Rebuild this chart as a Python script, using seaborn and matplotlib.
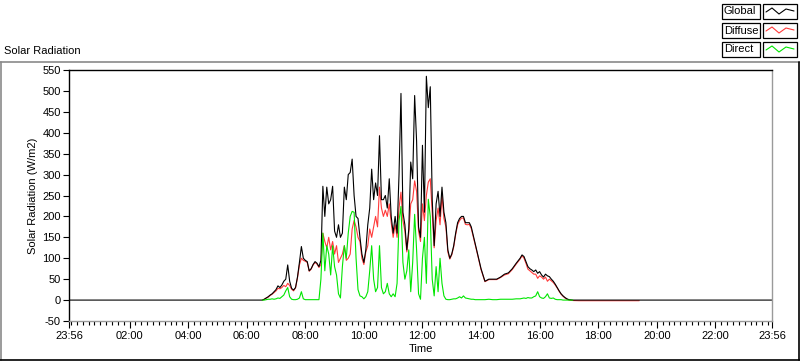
import matplotlib
matplotlib.use("Agg")
import numpy as np
import pandas as pd
import seaborn as sns
import matplotlib.pyplot as plt
from matplotlib.lines import Line2D
from matplotlib.patches import Rectangle
from matplotlib.ticker import FixedLocator, FixedFormatter

# ---------------- data ----------------
TIMES = [
    "06:32", "06:36", "06:40", "06:44", "06:48", "06:52", "06:56",
    "07:00", "07:04", "07:08", "07:12", "07:16", "07:20", "07:24", "07:28", "07:32", "07:36", "07:40", "07:44", "07:48", "07:52", "07:56",
    "08:00", "08:04", "08:08", "08:12", "08:16", "08:20", "08:24", "08:28", "08:32", "08:36", "08:40", "08:44", "08:48", "08:52", "08:56",
    "09:00", "09:04", "09:08", "09:12", "09:16", "09:20", "09:24", "09:28", "09:32", "09:36", "09:40", "09:44", "09:48", "09:52", "09:56",
    "10:00", "10:04", "10:08", "10:12", "10:16", "10:20", "10:24", "10:28", "10:32", "10:36", "10:40", "10:44", "10:48", "10:52", "10:56",
    "11:00", "11:04", "11:08", "11:12", "11:16", "11:20", "11:24", "11:28", "11:32", "11:36", "11:40", "11:44", "11:48", "11:52", "11:56",
    "12:00", "12:04", "12:08", "12:12", "12:16", "12:20", "12:24", "12:28", "12:32", "12:36", "12:40", "12:44", "12:48", "12:52", "12:56",
    "13:00", "13:04", "13:08", "13:12", "13:16", "13:20", "13:24", "13:28", "13:32", "13:36", "13:40", "13:44", "13:48", "13:52", "13:56",
    "14:00",
    "14:08", "14:16", "14:24", "14:32", "14:40", "14:48", "14:56", "15:04", "15:12", "15:20",
    "15:24", "15:28", "15:32", "15:36", "15:40", "15:44", "15:48", "15:52", "15:56",
    "16:00", "16:04", "16:08", "16:12", "16:16", "16:20", "16:24", "16:28", "16:32", "16:36", "16:40", "16:44", "16:48", "16:52", "16:56",
    "17:00", "17:08", "17:20",
]

GLOBAL = [
    0, 2, 5, 8, 12, 15, 20,
    25, 34, 30, 36, 45, 50, 84, 45, 28, 24, 30, 55, 90, 128, 100,
    95, 92, 70, 75, 85, 92, 88, 80, 95, 272, 200, 270, 230, 240, 272,
    165, 150, 180, 150, 160, 270, 240, 300, 305, 337, 250, 200, 195, 150, 110,
    90, 120, 180, 220, 313, 240, 280, 250, 393, 240, 240, 250, 220, 290, 200,
    160, 200, 160, 300, 494, 210, 180, 120, 170, 330, 290, 489, 380, 175, 150,
    370, 210, 535, 460, 510, 240, 130, 230, 260, 200, 270, 210, 185, 120, 100,
    110, 130, 160, 185, 195, 200, 200, 185, 185, 185, 175, 155, 135, 115, 95,
    75,
    45, 50, 50, 50, 55, 62, 65, 75, 88, 100,
    108, 104, 92, 80, 75, 72, 68, 72, 64,
    68, 60, 55, 62, 58, 56, 50, 45, 38, 30, 22, 15, 10, 6, 3,
    1, 0, 0,
]

DIFFUSE = [
    0, 2, 5, 7, 11, 14, 18,
    22, 28, 27, 30, 35, 32, 40, 35, 26, 22, 29, 53, 84, 100, 95,
    93, 90, 69, 74, 84, 90, 86, 78, 85, 160, 140, 125, 150, 120, 140,
    110, 130, 90, 100, 110, 130, 95, 100, 110, 170, 190, 175, 150, 140, 100,
    85, 115, 130, 170, 150, 175, 200, 175, 270, 220, 200, 215, 200, 230, 185,
    150, 180, 150, 220, 258, 190, 165, 115, 160, 230, 240, 285, 260, 165, 140,
    230, 190, 250, 282, 290, 210, 125, 190, 220, 180, 250, 195, 175, 115, 98,
    108, 127, 156, 180, 190, 196, 196, 181, 180, 181, 171, 152, 133, 113, 93,
    73,
    44, 49, 49, 49, 54, 60, 63, 73, 86, 98,
    106, 100, 88, 74, 70, 66, 62, 62, 52,
    58, 55, 50, 55, 45, 50, 46, 42, 36, 29, 21, 14, 9, 5, 2,
    0, -1, -1.5,
]

DIRECT = [
    0, 0, 1, 2, 2, 3, 2,
    3, 5, 4, 8, 12, 22, 30, 8, 2, 1, 1, 2, 5, 20, 3,
    1, 1, 1, 1, 1, 1, 1, 1, 50, 160, 70, 130, 110, 60, 130,
    80, 60, 15, 5, 80, 130, 100, 160, 200, 212, 210, 100, 25, 10, 8,
    3, 8, 20, 70, 130, 50, 20, 30, 130, 30, 15, 20, 40, 15, 8,
    15, 8, 40, 190, 224, 90, 50, 70, 120, 20, 90, 205, 120, 15, 2,
    100, 150, 40, 241, 200, 50, 10, 80, 20, 100, 40, 10, 2, 1, 1,
    2, 3, 3, 5, 8, 5, 10, 5, 4, 3, 2, 2, 1, 1, 1,
    1,
    1, 2, 1, 1, 2, 2, 2, 2, 3, 3,
    4, 5, 4, 6, 5, 5, 8, 10, 20,
    8, 5, 4, 8, 15, 5, 4, 5, 2, 1, 1, 1, 0, 0, 0,
    0, 0,
]

# flat zero baseline of the global trace over the whole displayed day
GLOBAL_EDGE_TIMES = ["23:56", "23:56"]   # previous-day start, same-day end
GLOBAL_EDGE_VALUES = [0, 0]
# diffuse trace continues slightly below zero after sunset
DIFFUSE_TAIL_TIMES = ["19:24"]
DIFFUSE_TAIL = [-1.5]

X_TICK_LABELS = ["23:56", "02:00", "04:00", "06:00", "08:00", "10:00", "12:00",
                 "14:00", "16:00", "18:00", "20:00", "22:00", "23:56"]
Y_TICKS = [-50, 0, 50, 100, 150, 200, 250, 300, 350, 400, 450, 500, 550]
SERIES = ["Global", "Diffuse", "Direct"]
DRAW_ORDER = ["Diffuse", "Global", "Direct"]
COLORS = {"Global": "#000000", "Diffuse": "#ff3a3a", "Direct": "#00e600"}


def to_min(s):
    h, m = s.split(":")
    return int(h) * 60 + int(m)


start_min = to_min(GLOBAL_EDGE_TIMES[0]) - 1440
end_min = to_min(GLOBAL_EDGE_TIMES[1])

g_t = [start_min] + [to_min(t) for t in TIMES] + [end_min]
g_v = [GLOBAL_EDGE_VALUES[0]] + GLOBAL + [GLOBAL_EDGE_VALUES[1]]
d_t = [to_min(t) for t in TIMES] + [to_min(t) for t in DIFFUSE_TAIL_TIMES]
d_v = DIFFUSE + DIFFUSE_TAIL
b_t = [to_min(t) for t in TIMES[:len(DIRECT)]]
b_v = DIRECT

df = pd.concat([
    pd.DataFrame({"t": g_t, "v": g_v, "s": "Global"}),
    pd.DataFrame({"t": d_t, "v": d_v, "s": "Diffuse"}),
    pd.DataFrame({"t": b_t, "v": b_v, "s": "Direct"}),
], ignore_index=True)

# ---------------- figure ----------------
sns.set_theme(style="white")
plt.rcParams["font.family"] = ["Liberation Sans", "DejaVu Sans"]

W, H = 800, 361
fig = plt.figure(figsize=(W / 100, H / 100), dpi=100)
fig.patch.set_facecolor("white")


def fx(px):
    return px / W


def fy(py):
    return 1 - py / H


ax = fig.add_axes([fx(69), fy(321), fx(772) - fx(69), fy(70) - fy(321)])
ax.set_facecolor("white")

for name in DRAW_ORDER:
    sub = df[df["s"] == name]
    sns.lineplot(data=sub, x="t", y="v", ax=ax, color=COLORS[name], lw=0.8,
                 estimator=None, sort=False, legend=False)

ax.set_xlim(start_min, end_min)
ax.set_ylim(-50, 550)

major = [start_min] + list(range(120, 1321, 120)) + [end_min]
ax.xaxis.set_major_locator(FixedLocator(major))
ax.xaxis.set_major_formatter(FixedFormatter(X_TICK_LABELS))
ax.xaxis.set_minor_locator(FixedLocator(list(range(0, 1436, 12))))
ax.set_yticks(Y_TICKS)
ax.set_yticklabels([str(v) for v in Y_TICKS])

ax.tick_params(axis="x", which="major", direction="out", length=5, width=0.8,
               color="black", labelsize=8, pad=2, bottom=True)
ax.tick_params(axis="x", which="minor", direction="out", length=3, width=0.8,
               color="black", bottom=True)
ax.tick_params(axis="y", which="major", direction="out", length=4, width=0.8,
               color="black", labelsize=8, pad=2, left=True)
for lab in ax.get_xticklabels() + ax.get_yticklabels():
    lab.set_color("black")

ax.set_xlabel("Time", fontsize=8, color="black", labelpad=2)
ax.set_ylabel("Solar Radiation (W/m2)", fontsize=8, color="black", labelpad=3)

for side in ["top", "left"]:
    ax.spines[side].set_color("black")
    ax.spines[side].set_linewidth(1.0)
for side in ["right", "bottom"]:
    ax.spines[side].set_color("#9a9a9a")
    ax.spines[side].set_linewidth(1.0)
ax.grid(False)

# ---------------- title and outer frame ----------------
fig.text(fx(4), fy(51), "Solar Radiation", fontsize=8, ha="left", va="center",
         color="black")

fig.add_artist(Line2D([fx(0), fx(800)], [fy(61.5), fy(61.5)], color="#8a8a8a",
                      lw=1.2, transform=fig.transFigure))
fig.add_artist(Line2D([fx(1), fx(1)], [fy(61.5), fy(360)], color="#8a8a8a",
                      lw=1.2, transform=fig.transFigure))
fig.add_artist(Line2D([fx(0), fx(800)], [fy(360), fy(360)], color="black",
                      lw=1.2, transform=fig.transFigure))
fig.add_artist(Line2D([fx(799), fx(799)], [fy(61.5), fy(360)], color="black",
                      lw=1.2, transform=fig.transFigure))

# ---------------- LabVIEW-style legend ----------------
rows = [(4, "Global"), (23, "Diffuse"), (42, "Direct")]
for top, name in rows:
    h = 15
    fig.add_artist(Rectangle((fx(722), fy(top + h)), fx(760) - fx(722), fy(top) - fy(top + h),
                             transform=fig.transFigure, facecolor="white",
                             edgecolor="black", lw=0.9))
    fig.text(fx(724), fy(top + h / 2), name, fontsize=8, ha="left", va="center",
             color="black")
    fig.add_artist(Rectangle((fx(763), fy(top + h)), fx(797) - fx(763), fy(top) - fy(top + h),
                             transform=fig.transFigure, facecolor="white",
                             edgecolor="black", lw=0.9))
    zx = [766, 772, 779, 786, 794]
    zy = [top + 8, top + 4, top + 10, top + 5, top + 7]
    fig.add_artist(Line2D([fx(p) for p in zx], [fy(p) for p in zy],
                          color=COLORS[name], lw=0.8, transform=fig.transFigure))

fig.savefig("out.png", dpi=100, facecolor="white")
